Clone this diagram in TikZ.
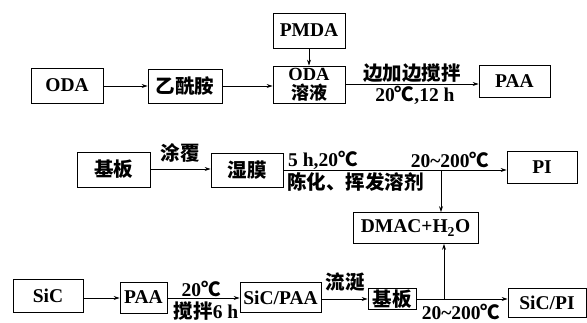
\documentclass[tikz,border=0pt]{standalone}
\usepackage{fontspec}
\setmainfont{Liberation Serif}
\newfontfamily\cjk{Noto Sans CJK SC}
\usetikzlibrary{arrows.meta}
\newcommand{\zh}[1]{{\cjk\fontsize{19.5}{18}\selectfont #1}}
\newcommand{\zhs}[1]{{\cjk\fontsize{18}{18}\selectfont #1}}
\begin{document}
\begin{tikzpicture}[x=1pt,y=-1pt,
  box/.style={draw,line width=0.8pt,inner sep=0pt,align=center,font=\fontsize{19.5}{18}\selectfont\bfseries},
  arr/.style={line width=0.8pt,-{Stealth[length=6pt,width=4pt]}},
  lbl/.style={inner sep=0pt,font=\fontsize{19.5}{18}\selectfont\bfseries}]
\useasboundingbox (0,0) rectangle (587,323);
% row 1
\node[box,minimum width=72pt,minimum height=35pt] (oda) at (67,85.5) {ODA};
\node[box,minimum width=74pt,minimum height=34pt] (yxa) at (185,86) {\zh{乙酰胺}};
\node[box,minimum width=72pt,minimum height=37pt,font=\fontsize{18.5}{17}\selectfont\bfseries] (odas) at (309,84.5) {ODA\\[2pt]\zhs{溶液}};
\node[box,minimum width=72pt,minimum height=35pt] (pmda) at (309,30.5) {PMDA};
\node[box,minimum width=71pt,minimum height=32pt] (paa1) at (514.5,81) {PAA};
\draw[arr] (oda.east |- 0,86) -- (yxa.west |- 0,86);
\draw[arr] (yxa.east |- 0,86) -- (odas.west |- 0,86);
\draw[arr] (pmda) -- (odas);
\draw[arr] (odas.east |- 0,84) -- (paa1.west |- 0,84);
\node[lbl] (l1) at (412,73) {\zh{边加边搅拌}};
\node[lbl] (l2) at (415,95) {20\zh{℃},12 h};
% row 2
\node[box,minimum width=73pt,minimum height=35pt] (jb1) at (113.5,169.5) {\zh{基板}};
\node[box,minimum width=72pt,minimum height=34pt] (sm) at (247,170) {\zh{湿膜}};
\node[box,minimum width=70pt,minimum height=32pt] (pi) at (542,167) {PI};
\node[box,minimum width=125pt,minimum height=31pt] (dmac) at (415.5,228) {DMAC+H\textsubscript{2}O};
\draw[arr] (jb1.east |- 0,169) -- (sm.west |- 0,169);
\node[lbl] (l3) at (180,153) {\zh{涂覆}};
\coordinate (b1) at (441,170);
\draw[arr] (sm.east |- b1) -- (pi.west |- b1);
\draw[arr] (b1) -- (b1 |- dmac.north);
\node[lbl,anchor=west] (l4) at (288,160) {5 h,20\zh{℃}};
\node[lbl,anchor=west] (l5) at (287,182) {\zh{陈化、挥发溶剂}};
\node[lbl] (l6) at (450,160) {20\textasciitilde200\zh{℃}};
% row 3
\node[box,minimum width=70pt,minimum height=33pt] (sic) at (48,295.5) {SiC};
\node[box,minimum width=47pt,minimum height=31pt] (paa2) at (143.5,297.5) {PAA};
\node[box,minimum width=81pt,minimum height=30pt] (sicpaa) at (280.5,297.5) {SiC/PAA};
\node[box,minimum width=48pt,minimum height=21pt] (jb2) at (392,299) {\zh{基板}};
\node[box,minimum width=78pt,minimum height=29pt] (sicpi) at (547,302.5) {SiC/PI};
\draw[arr] (sic.east |- 0,298) -- (paa2.west |- 0,298);
\draw[arr] (paa2.east |- 0,298) -- (sicpaa.west |- 0,298);
\draw[arr] (sicpaa.east |- 0,299) -- (jb2.west |- 0,299);
\coordinate (b2) at (444,299);
\draw[arr] (jb2.east |- b2) -- (sicpi.west |- b2);
\draw[arr] (b2) -- (b2 |- dmac.south);
\node[lbl] (l7) at (201,289) {20\zh{℃}};
\node[lbl] (l8) at (206,311) {\zh{搅拌}6 h};
\node[lbl] (l9) at (345,282) {\zh{流涎}};
\node[lbl] (l10) at (461,312) {20\textasciitilde200\zh{℃}};
\end{tikzpicture}
\end{document}
